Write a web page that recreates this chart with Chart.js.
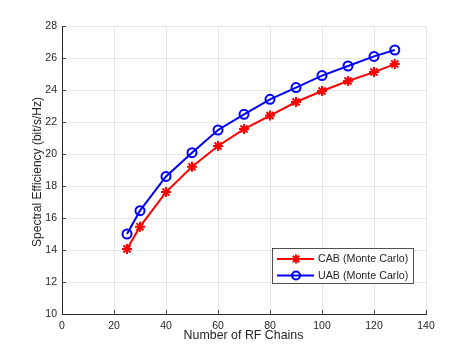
<!DOCTYPE html>
<html><head><meta charset="utf-8">
<script src="https://cdn.jsdelivr.net/npm/chart.js@4/dist/chart.umd.min.js"></script>
<style>html,body{margin:0;padding:0;background:#fff}#wrap{width:471px;height:353px}</style>
</head><body><div id="wrap"><canvas id="c" width="471" height="353"></canvas></div>
<script>
const rfChains = [25, 30, 40, 50, 60, 70, 80, 90, 100, 110, 120, 128];
const cabValues = [14.06, 15.46, 17.62, 19.2, 20.5, 21.56, 22.4, 23.25, 23.94, 24.56, 25.12, 25.62];
const uabValues = [15.0, 16.46, 18.6, 20.08, 21.5, 22.48, 23.42, 24.15, 24.9, 25.5, 26.1, 26.5];
const seriesNames = ['CAB (Monte Carlo)', 'UAB (Monte Carlo)'];
const xTitle = 'Number of RF Chains';
const yTitle = 'Spectral Efficiency (bit/s/Hz)';

const font = '"Liberation Sans", Arial, Helvetica, sans-serif';
const axisColor = '#262626';

const extras = {
  id: 'extras',
  afterDraw(chart) {
    const ctx = chart.ctx, ca = chart.chartArea;
    const xs = chart.scales.x, ys = chart.scales.y;
    ctx.save();
    // inward ticks
    ctx.strokeStyle = axisColor; ctx.lineWidth = 0.8;
    ys.ticks.forEach(t => { const y = Math.round(ys.getPixelForValue(t.value)) + 0.5;
      ctx.beginPath(); ctx.moveTo(ca.left, y); ctx.lineTo(ca.left + 4, y); ctx.stroke(); });
    xs.ticks.forEach(t => { const x = Math.round(xs.getPixelForValue(t.value)) + 0.5;
      ctx.beginPath(); ctx.moveTo(x, ca.bottom); ctx.lineTo(x, ca.bottom - 4); ctx.stroke(); });
    // axis titles
    ctx.fillStyle = axisColor;
    ctx.font = '12.4px ' + font;
    ctx.textAlign = 'center'; ctx.textBaseline = 'middle';
    ctx.fillText(xTitle, 243.5, 336);
    ctx.translate(38, (ca.top + ca.bottom) / 2 + 2);
    ctx.rotate(-Math.PI / 2);
    ctx.font = '12px ' + font;
    ctx.fillText(yTitle, 0, 0);
    ctx.restore();
    // legend
    ctx.save();
    const bx = 272, by = 248, bw = 141, bh = 35;
    ctx.fillStyle = '#fff'; ctx.fillRect(bx, by, bw, bh);
    ctx.strokeStyle = axisColor; ctx.lineWidth = 0.8;
    ctx.strokeRect(bx + 0.5, by + 0.5, bw, bh);
    chart.data.datasets.forEach((ds, i) => {
      const y = 259 + i * 16.5;
      ctx.strokeStyle = ds.borderColor; ctx.lineWidth = 2;
      ctx.beginPath(); ctx.moveTo(277, y); ctx.lineTo(314, y); ctx.stroke();
      ctx.fillStyle = 'rgba(0,0,0,0)';
      Chart.helpers.drawPoint(ctx, {pointStyle: ds.pointStyle, radius: i === 0 ? 4.5 : 4, borderWidth: 2}, 296, y);
      ctx.fillStyle = axisColor; ctx.font = '10.7px ' + font;
      ctx.textAlign = 'left'; ctx.textBaseline = 'middle';
      ctx.fillText(ds.label, 318, y + 0.5);
    });
    ctx.restore();
  }
};

new Chart(document.getElementById('c'), {
  type: 'line',
  data: {
    datasets: [
      { label: seriesNames[0], data: rfChains.map((x, i) => ({x, y: cabValues[i]})),
        borderColor: '#ff0000', backgroundColor: '#ff0000', borderWidth: 2,
        pointStyle: 'star', pointRadius: 5, pointBorderWidth: 2, pointBackgroundColor: 'transparent' },
      { label: seriesNames[1], data: rfChains.map((x, i) => ({x, y: uabValues[i]})),
        borderColor: '#0000ff', backgroundColor: '#0000ff', borderWidth: 2,
        pointStyle: 'circle', pointRadius: 4.5, pointBorderWidth: 2, pointBackgroundColor: 'transparent' }
    ]
  },
  options: {
    responsive: false, animation: false, devicePixelRatio: 1,
    layout: { padding: { left: 0, top: 26, right: 45, bottom: 0 } },
    plugins: { legend: { display: false }, tooltip: { enabled: false } },
    scales: {
      x: { type: 'linear', min: 0, max: 140,
        afterFit(s) { s.height = 39; },
        ticks: { stepSize: 20, padding: 6, color: axisColor, font: { family: font, size: 10.5 }, maxRotation: 0 },
        grid: { color: '#e6e6e6', lineWidth: 1, drawTicks: false },
        border: { color: axisColor, width: 1 } },
      y: { min: 10, max: 28,
        afterFit(s) { s.width = 62; },
        ticks: { stepSize: 2, padding: 5, color: axisColor, font: { family: font, size: 10.5 } },
        grid: { color: '#e6e6e6', lineWidth: 1, drawTicks: false },
        border: { color: axisColor, width: 1 } }
    }
  },
  plugins: [extras]
});
</script></body></html>
